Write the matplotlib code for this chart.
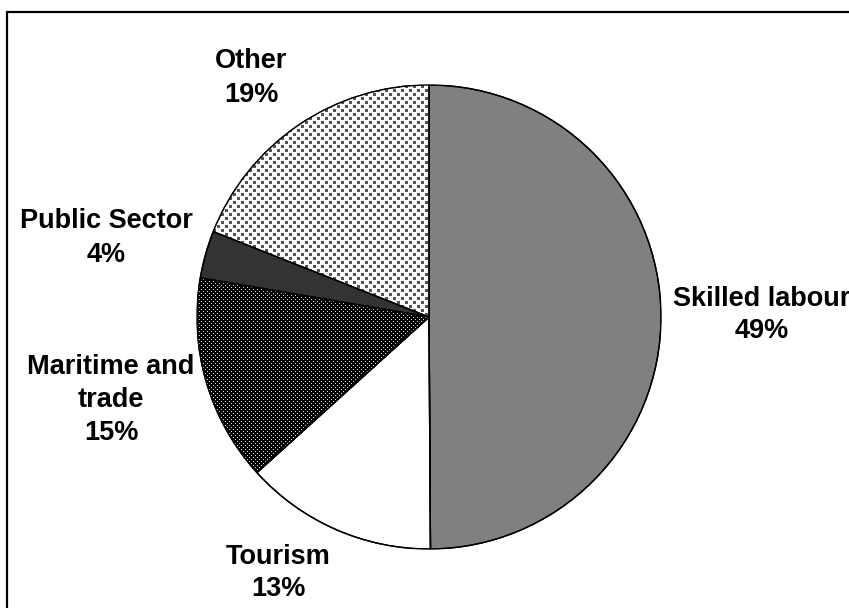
import numpy as np
import matplotlib
matplotlib.use("Agg")
import matplotlib.pyplot as plt
from matplotlib.patches import Rectangle, Wedge

categories = ["Skilled labour", "Tourism", "Maritime and\ntrade", "Public Sector", "Other"]
shares = [49.9, 13.4, 14.4, 3.3, 19.0]
pct_labels = ["49%", "13%", "15%", "4%", "19%"]

W, H = 849, 608
fig = plt.figure(figsize=(W / 100, H / 100), dpi=100)
fig.patch.set_facecolor("white")

cx, cy, R = 429, 317, 232
ax = fig.add_axes([(cx - R) / W, (H - cy - R) / H, 2 * R / W, 2 * R / H])
ax.set_aspect("equal")
ax.axis("off")

base_colors = ["#808080", "#ffffff", "#000000", "#333333", "#ffffff"]

wedges, _ = ax.pie(shares, colors=base_colors, startangle=90, counterclock=False,
                   radius=1.0, center=(0, 0),
                   wedgeprops=dict(edgecolor="black", linewidth=1.0))
ax.set_xlim(-1.0, 1.0)
ax.set_ylim(-1.0, 1.0)

# texture images for patterned slices
n = 2 * R
yy, xx = np.mgrid[0:n, 0:n]

# "Other": white background with gray square dots
other = np.ones((n, n, 3))
dots = (((xx % 8) < 3) & ((yy % 8) < 3)) | ((((xx + 4) % 8) < 3) & (((yy + 4) % 8) < 3))
other[dots] = [0.33, 0.33, 0.33]

# "Maritime": black with white dots
mar = np.zeros((n, n, 3))
wd = (((xx % 4) == 0) & ((yy % 4) == 0)) | ((((xx + 2) % 4) == 0) & (((yy + 2) % 4) == 0))
mar[wd] = [0.85, 0.85, 0.85]

for idx, tex in [(4, other), (2, mar)]:
    im = ax.imshow(tex, extent=[-1, 1, -1, 1], interpolation="nearest", zorder=1.5)
    im.set_clip_path(wedges[idx])

# redraw outlines on top
for w in wedges:
    ax.add_patch(Wedge(w.center, w.r, w.theta1, w.theta2, facecolor="none",
                       edgecolor="black", linewidth=1.0, zorder=3))

# labels (text block centres in pixel coordinates)
label_pos = [(762, 315), (278, 573), (111, 400), (106, 238), (251, 78)]
for cat, pct, (px, py) in zip(categories, pct_labels, label_pos):
    fig.text(px / W, 1 - py / H, f"{cat}\n{pct}", ha="center", va="center",
             fontsize=19.5, fontweight="bold", family="Liberation Sans",
             linespacing=1.35)

# chart border (extends beyond the right and bottom edges)
fig.patches.append(Rectangle((7 / W, -0.1), 1.2, 1 - 12 / H + 0.1,
                             transform=fig.transFigure, fill=False,
                             edgecolor="black", linewidth=1.6))

fig.savefig("out.png", dpi=100, facecolor="white")
